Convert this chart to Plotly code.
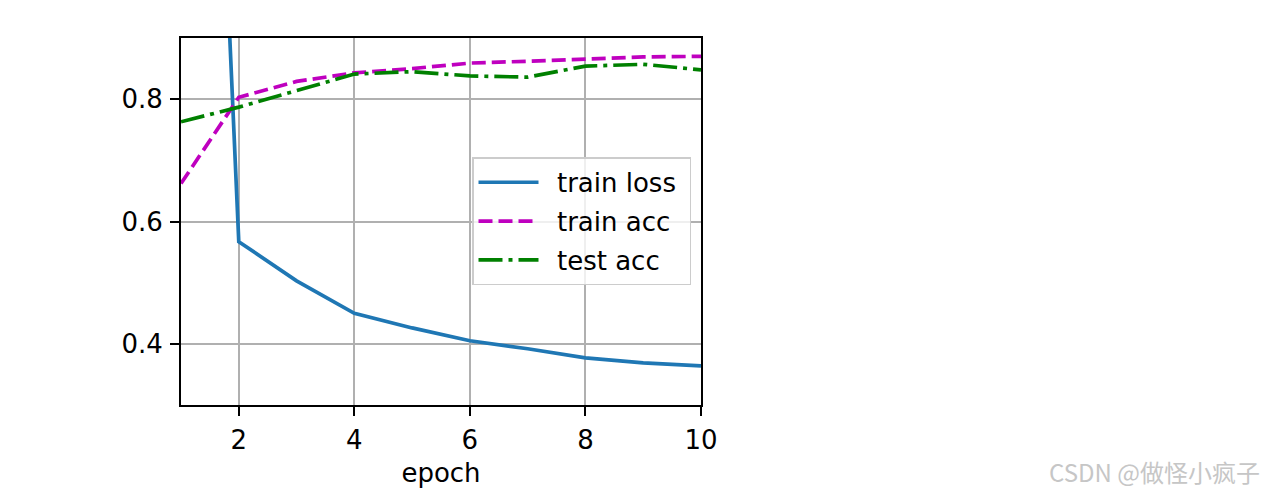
import plotly.graph_objects as go

epochs = [1, 2, 3, 4, 5, 6, 7, 8, 9, 10]
train_loss = [2.71, 0.567, 0.503, 0.450, 0.426, 0.405, 0.392, 0.377, 0.369, 0.364]
train_acc = [0.662, 0.803, 0.829, 0.843, 0.850, 0.859, 0.862, 0.866, 0.869, 0.870]
test_acc = [0.763, 0.787, 0.814, 0.841, 0.845, 0.838, 0.836, 0.854, 0.857, 0.848]

x_ticks = [2, 4, 6, 8, 10]
y_ticks = [0.4, 0.6, 0.8]
y_tick_labels = ["0.4", "0.6", "0.8"]

# browser body margin offset
O = 8
W, H = 1271 - O, 495 - O
L, R, T, B = 181 - O, 701 - O, 38 - O, 407 - O
FONT = "DejaVu Sans"
FS = 26
LW = 3.7
PRE = "\u00a0\u2009"
POST = "\u00a0"

fig = go.Figure()
fig.add_trace(go.Scatter(x=epochs, y=train_loss, mode="lines", name=PRE + "train loss" + POST,
                         legendgroup="a",
                         line=dict(color="#1f77b4", width=LW)))
fig.add_trace(go.Scatter(x=epochs, y=train_acc, mode="lines", name=PRE + "train acc" + POST,
                         legendgroup="b",
                         line=dict(color="#bf00bf", width=LW, dash="14px,6px")))
fig.add_trace(go.Scatter(x=epochs, y=test_acc, mode="lines", name=PRE + "test acc" + POST,
                         legendgroup="c",
                         line=dict(color="#008000", width=LW, dash="24px,6px,4px,6px")))

def px2paper_x(px):
    return (px - O - L) / (R - L)

def px2paper_y(py):
    return (B - (py - O)) / (B - T)

fig.add_annotation(text="CSDN @做怪小疯子", xref="paper", yref="paper",
                   x=px2paper_x(1262), y=px2paper_y(474), xanchor="right", yanchor="middle",
                   showarrow=False,
                   font=dict(family="Noto Sans CJK SC", size=24, color="#c6c6c6"))

axis_common = dict(showline=True, linecolor="black", linewidth=2, mirror=True,
                   showgrid=True, gridcolor="#b0b0b0", gridwidth=2,
                   ticks="outside", ticklen=9, tickwidth=2, tickcolor="black",
                   zeroline=False,
                   tickfont=dict(family=FONT, size=FS, color="black"))

fig.update_xaxes(range=[1, 10], tickvals=x_ticks, ticklabelstandoff=2,
                 title=dict(text="epoch", font=dict(family=FONT, size=FS, color="black"), standoff=10),
                 **axis_common)
fig.update_yaxes(range=[0.3, 0.9], tickvals=y_ticks, ticktext=y_tick_labels,
                 ticklabelstandoff=2,
                 **axis_common)

fig.update_layout(
    width=W, height=H,
    margin=dict(l=L, r=W - R, t=T, b=H - B, pad=0),
    paper_bgcolor="white", plot_bgcolor="white",
    font=dict(family=FONT, size=FS, color="black"),
    showlegend=True,
    legend=dict(x=px2paper_x(472), y=px2paper_y(158), xanchor="left", yanchor="top",
                bgcolor="rgba(255,255,255,0.8)", bordercolor="#cccccc", borderwidth=1.5,
                font=dict(family=FONT, size=FS, color="black"),
                traceorder="grouped", tracegroupgap=2, itemwidth=60),
)

fig.write_html("out.html")
